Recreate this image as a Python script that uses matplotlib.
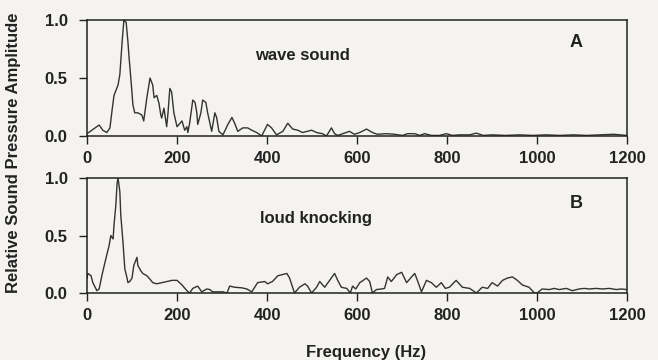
import numpy as np
import matplotlib
matplotlib.use("Agg")
import matplotlib.pyplot as plt

# spectrum A: wave sound (frequency in Hz, relative amplitude)
freq_a = [0, 27, 35, 44, 51, 55, 60, 69, 73, 78, 82, 87, 91, 93, 98, 102, 106, 113,
          122, 126, 133, 140, 146, 149, 155, 160, 164, 166, 171, 177, 180, 184, 188,
          193, 200, 211, 217, 222, 224, 228, 235, 240, 244, 246, 253, 257, 264, 268,
          277, 284, 288, 293, 302, 313, 322, 328, 335, 346, 357, 366, 377, 388, 401,
          410, 421, 435, 446, 457, 468, 479, 499, 510, 523, 532, 543, 550, 557, 568,
          583, 594, 606, 621, 634, 645, 665, 683, 701, 712, 728, 739, 750, 765, 783,
          798, 812, 827, 850, 865, 880, 900, 930, 960, 990, 1020, 1050, 1080, 1110,
          1140, 1170, 1200]
amp_a = [0.02, 0.095, 0.05, 0.03, 0.07, 0.2, 0.35, 0.44, 0.53, 0.81, 1.0, 0.98, 0.81,
         0.7, 0.47, 0.27, 0.2, 0.2, 0.18, 0.13, 0.33, 0.5, 0.44, 0.33, 0.35, 0.28, 0.18,
         0.155, 0.24, 0.08, 0.2, 0.41, 0.38, 0.2, 0.08, 0.13, 0.05, 0.08, 0.03, 0.11,
         0.31, 0.29, 0.2, 0.1, 0.2, 0.31, 0.29, 0.2, 0.04, 0.2, 0.16, 0.04, 0.01, 0.1,
         0.16, 0.11, 0.04, 0.07, 0.07, 0.05, 0.03, 0.0, 0.1, 0.07, 0.01, 0.04, 0.11,
         0.06, 0.05, 0.03, 0.05, 0.03, 0.02, 0.0, 0.07, 0.02, 0.005, 0.02, 0.04, 0.015,
         0.03, 0.06, 0.03, 0.015, 0.02, 0.015, 0.005, 0.02, 0.02, 0.005, 0.02, 0.005,
         0.005, 0.02, 0.005, 0.01, 0.01, 0.025, 0.005, 0.01, 0.005, 0.01, 0.005, 0.01,
         0.005, 0.01, 0.005, 0.01, 0.015, 0.005]

# spectrum B: loud knocking
freq_b = [0, 2, 9, 13, 22, 27, 33, 42, 49, 53, 58, 60, 64, 67, 69, 73, 75, 80, 84, 89,
          91, 95, 100, 104, 111, 113, 120, 124, 133, 140, 146, 155, 166, 177, 189, 200,
          211, 222, 228, 235, 246, 255, 266, 273, 279, 291, 302, 311, 317, 328, 344,
          355, 366, 379, 395, 401, 412, 424, 444, 450, 461, 472, 484, 490, 499, 510,
          517, 528, 539, 550, 557, 565, 577, 585, 590, 597, 606, 621, 628, 634, 643,
          654, 661, 668, 676, 688, 699, 710, 721, 728, 734, 743, 754, 765, 776, 787,
          796, 805, 820, 834, 850, 865, 878, 890, 900, 912, 923, 934, 945, 956, 967,
          982, 994, 1000, 1011, 1027, 1038, 1049, 1065, 1078, 1093, 1105, 1116, 1131,
          1145, 1160, 1176, 1187, 1198]
amp_b = [0.13, 0.17, 0.15, 0.09, 0.02, 0.035, 0.15, 0.3, 0.41, 0.5, 0.47, 0.59, 0.76,
         0.96, 1.0, 0.88, 0.68, 0.44, 0.21, 0.13, 0.09, 0.1, 0.13, 0.24, 0.31, 0.24,
         0.19, 0.17, 0.15, 0.12, 0.09, 0.08, 0.09, 0.1, 0.11, 0.11, 0.07, 0.02, 0.0,
         0.04, 0.06, 0.01, 0.035, 0.03, 0.01, 0.01, 0.01, 0.0, 0.06, 0.05, 0.045,
         0.035, 0.01, 0.09, 0.1, 0.08, 0.1, 0.15, 0.17, 0.13, 0.0, 0.05, 0.08, 0.06,
         0.0, 0.05, 0.1, 0.05, 0.11, 0.17, 0.11, 0.05, 0.04, 0.0, 0.06, 0.035, 0.09,
         0.13, 0.1, 0.0, 0.03, 0.035, 0.04, 0.14, 0.1, 0.16, 0.18, 0.09, 0.14, 0.17,
         0.11, 0.01, 0.11, 0.09, 0.05, 0.09, 0.04, 0.05, 0.11, 0.05, 0.04, 0.0, 0.05,
         0.04, 0.09, 0.06, 0.11, 0.13, 0.14, 0.11, 0.07, 0.05, 0.0, 0.0, 0.035, 0.03,
         0.04, 0.03, 0.04, 0.02, 0.035, 0.04, 0.035, 0.04, 0.035, 0.04, 0.03, 0.035,
         0.03]

panels = [("wave sound", "A", freq_a, amp_a), ("loud knocking", "B", freq_b, amp_b)]
xticks = [0, 200, 400, 600, 800, 1000, 1200]
yticks = [0.0, 0.5, 1.0]

bg = "#f5f3f0"
ink = "#222222"
plt.rcParams["font.family"] = ["Liberation Sans", "DejaVu Sans"]

fig = plt.figure(figsize=(6.58, 3.6), dpi=100, facecolor=bg)
rects = [[0.1322, 0.6222, 0.821, 0.3222], [0.1322, 0.1861, 0.821, 0.3194]]
# (name x, name y, tag x, tag y) in axes fraction
text_pos = [(0.398, 0.69, 0.905, 0.81), (0.424, 0.65, 0.905, 0.775)]

for rect, pos, (name, tag, f, a) in zip(rects, text_pos, panels):
    ax = fig.add_axes(rect, facecolor=bg)
    ax.plot(f, a, color="#333333", lw=1.0)
    ax.set_xlim(0, 1200)
    ax.set_ylim(0, 1.0)
    ax.set_xticks(xticks)
    ax.set_yticks(yticks)
    ax.set_xticklabels([str(t) for t in xticks])
    ax.set_yticklabels(["%.1f" % t for t in yticks])
    for s in ax.spines.values():
        s.set_linewidth(1.1)
        s.set_color(ink)
    ax.tick_params(direction="out", length=6, width=1.0, color=ink,
                   labelsize=12, labelcolor=ink)
    ax.tick_params(axis="x", pad=5)
    ax.tick_params(axis="y", pad=8)
    for lab in ax.get_xticklabels() + ax.get_yticklabels():
        lab.set_fontweight("bold")
    ax.text(pos[0], pos[1], name, transform=ax.transAxes, ha="center", va="center",
            fontsize=12, fontweight="bold", color=ink)
    ax.text(pos[2], pos[3], tag, transform=ax.transAxes, ha="center", va="center",
            fontsize=13, fontweight="bold", color=ink)

fig.text(0.021, 0.575, "Relative Sound Pressure Amplitude", rotation=90,
         ha="center", va="center", fontsize=12, fontweight="bold", color=ink)
fig.text(0.556, 0.022, "Frequency (Hz)", ha="center", va="center",
         fontsize=12, fontweight="bold", color=ink)

fig.savefig("out.png", dpi=100, facecolor=bg)
